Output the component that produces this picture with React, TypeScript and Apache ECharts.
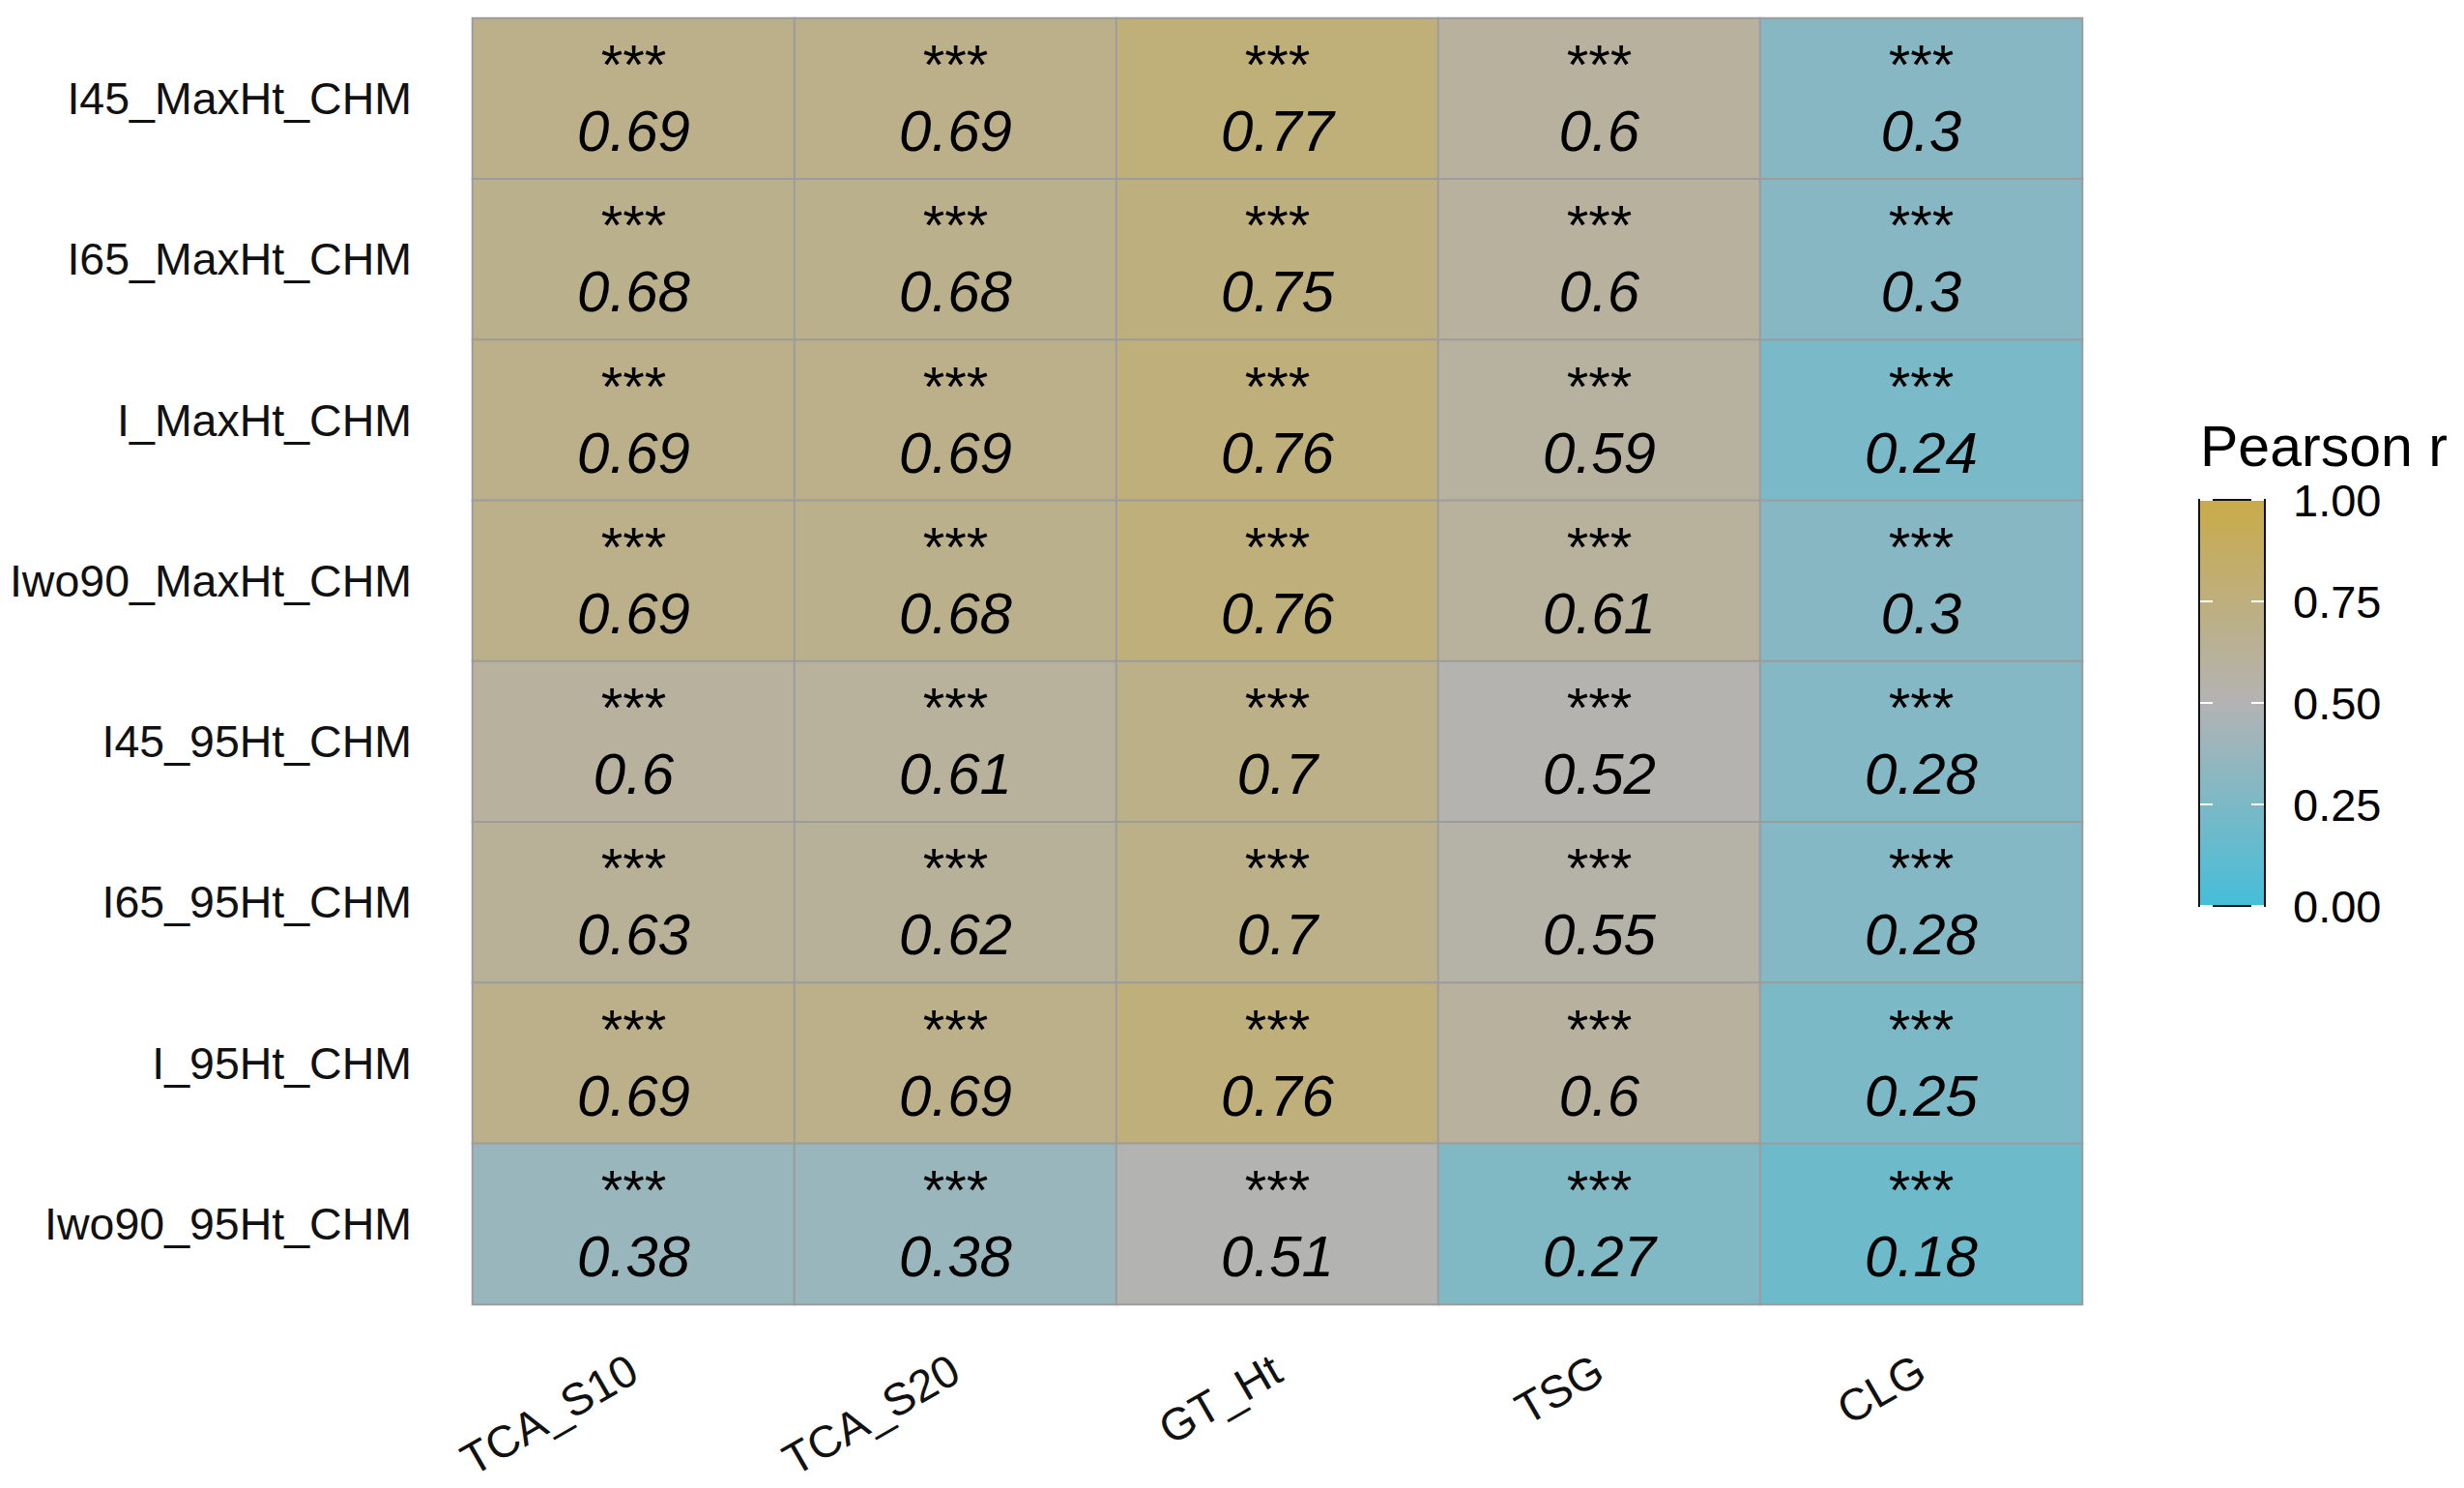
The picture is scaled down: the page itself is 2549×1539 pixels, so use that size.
import React, { useEffect, useRef } from "react";
import * as echarts from "echarts";

// ---- data ----
const rowLabels = [
  "I45_MaxHt_CHM",
  "I65_MaxHt_CHM",
  "I_MaxHt_CHM",
  "Iwo90_MaxHt_CHM",
  "I45_95Ht_CHM",
  "I65_95Ht_CHM",
  "I_95Ht_CHM",
  "Iwo90_95Ht_CHM",
];
const colLabels = ["TCA_S10", "TCA_S20", "GT_Ht", "TSG", "CLG"];

// Pearson r per column (rows in rowLabels order)
const rTCA_S10 = [0.69, 0.68, 0.69, 0.69, 0.6, 0.63, 0.69, 0.38];
const rTCA_S20 = [0.69, 0.68, 0.69, 0.68, 0.61, 0.62, 0.69, 0.38];
const rGT_Ht = [0.77, 0.75, 0.76, 0.76, 0.7, 0.7, 0.76, 0.51];
const rTSG = [0.6, 0.6, 0.59, 0.61, 0.52, 0.55, 0.6, 0.27];
const rCLG = [0.3, 0.3, 0.24, 0.3, 0.28, 0.28, 0.25, 0.18];
const columns = [rTCA_S10, rTCA_S20, rGT_Ht, rTSG, rCLG];

// significance marks (all p < 0.001)
const signif = "***";

const legendTicks = [0, 0.25, 0.5, 0.75, 1];
const legendTickLabels = ["0.00", "0.25", "0.50", "0.75", "1.00"];
const palette = ["#45BED9", "#B3B3B3", "#C9AB48"];

const FONT = "'Liberation Sans', Arial, sans-serif";

export default function App() {
  const ref = useRef<HTMLDivElement>(null);

  useEffect(() => {
    document.body.style.margin = "0";
    if (!ref.current) return;
    const chart = echarts.init(ref.current, null, { renderer: "svg" });

    const data: any[] = [];
    columns.forEach((col, ci) => {
      col.forEach((v, ri) => {
        data.push([ci, ri, v, signif]);
      });
    });

    // legend geometry
    const barX = 2275;
    const barY = 517;
    const barW = 68;
    const barH = 420;

    const graphics: any[] = [
      {
        type: "text",
        left: 2276,
        top: 432,
        style: {
          text: "Pearson r",
          fontSize: 59,
          fontFamily: FONT,
          fill: "#000",
        },
      },
      {
        type: "rect",
        shape: { x: barX, y: barY, width: barW, height: barH },
        style: {
          fill: {
            type: "linear",
            x: 0,
            y: 1,
            x2: 0,
            y2: 0,
            colorStops: palette.map((c, i) => ({
              offset: i / (palette.length - 1),
              color: c,
            })),
          },
          stroke: "#111",
          lineWidth: 2,
        },
      },
    ];
    legendTicks.forEach((t, i) => {
      const y = barY + (1 - t) * barH;
      graphics.push(
        {
          type: "line",
          shape: { x1: barX + 1, y1: y, x2: barX + 14, y2: y },
          style: { stroke: "#fff", lineWidth: 2 },
        },
        {
          type: "line",
          shape: { x1: barX + barW - 14, y1: y, x2: barX + barW - 1, y2: y },
          style: { stroke: "#fff", lineWidth: 2 },
        },
        {
          type: "text",
          x: 2372,
          y: y,
          style: {
            text: legendTickLabels[i],
            fontSize: 47,
            fontFamily: FONT,
            fill: "#000",
            verticalAlign: "middle",
            align: "left",
          },
        }
      );
    });

    chart.setOption({
      animation: false,
      backgroundColor: "#fff",
      grid: { left: 489, top: 19, width: 1665, height: 1330, containLabel: false },
      xAxis: {
        type: "category",
        data: colLabels,
        axisLine: { show: false },
        axisTick: { show: false },
        splitLine: { show: false },
        axisLabel: {
          rotate: 30,
          margin: 64,
          fontSize: 46.5,
          fontFamily: FONT,
          color: "#111",
          interval: 0,
        },
      },
      yAxis: {
        type: "category",
        data: rowLabels,
        inverse: true,
        axisLine: { show: false },
        axisTick: { show: false },
        splitLine: { show: false },
        axisLabel: {
          margin: 63,
          fontSize: 46.5,
          fontFamily: FONT,
          color: "#111",
          interval: 0,
        },
      },
      visualMap: {
        show: false,
        type: "continuous",
        min: 0,
        max: 1,
        dimension: 2,
        inRange: { color: palette },
      },
      graphic: graphics,
      series: [
        {
          type: "heatmap",
          data: data,
          itemStyle: { borderColor: "#9c9c9c", borderWidth: 2 },
          emphasis: { disabled: true },
          label: {
            show: true,
            offset: [0, 4.5],
            formatter: (p: any) => `{s|${p.data[3]}}\n{v|${p.data[2]}}`,
            rich: {
              s: {
                fontSize: 58,
                lineHeight: 58,
                padding: [0, 0, 15, 0],
                fontFamily: FONT,
                color: "#000",
              },
              v: {
                fontSize: 60,
                lineHeight: 65,
                fontStyle: "italic",
                fontFamily: FONT,
                color: "#000",
              },
            },
          },
        },
      ],
    });

    return () => {
      chart.dispose();
    };
  }, []);

  return <div ref={ref} style={{ width: 2549, height: 1539 }} />;
}
